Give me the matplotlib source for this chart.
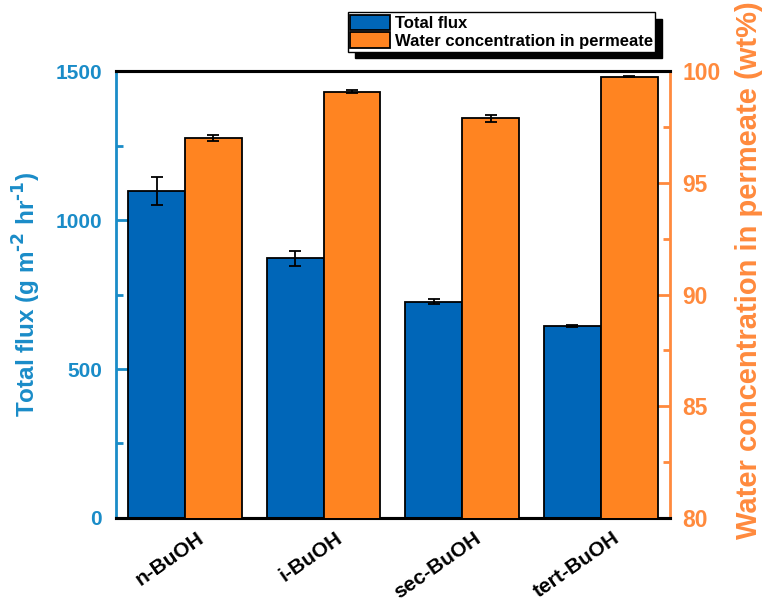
import matplotlib
matplotlib.use("Agg")
import matplotlib.pyplot as plt
import matplotlib.transforms as mtrans
import numpy as np

plt.rcParams['font.family'] = ['Liberation Sans', 'DejaVu Sans']
plt.rcParams['font.weight'] = 'bold'
plt.rcParams['mathtext.default'] = 'bf'

categories = ["n-BuOH", "i-BuOH", "sec-BuOH", "tert-BuOH"]
flux = [1098, 871, 726, 644]
flux_err = [48, 26, 8, 3]
water = [97.0, 99.07, 97.88, 99.75]
water_err = [0.13, 0.07, 0.14, 0.03]

blue_bar = "#0066B8"
orange_bar = "#FF8421"
blue_axis = "#1A8CC8"
orange_axis = "#FF8A3D"

fig = plt.figure(figsize=(7.67, 6.04), dpi=100)
ax1 = fig.add_axes([0.151, 0.1424, 0.7225, 0.740])
ax2 = ax1.twinx()

x = np.arange(len(categories))
w = 0.41
b1 = ax1.bar(x - w / 2, flux, w, color=blue_bar, edgecolor="black", linewidth=1.3,
             yerr=flux_err, capsize=4, error_kw=dict(ecolor="black", elinewidth=1.3, capthick=1.3),
             label="Total flux", zorder=3)
b2 = ax2.bar(x + w / 2, water, w, color=orange_bar, edgecolor="black", linewidth=1.3,
             yerr=water_err, capsize=4, error_kw=dict(ecolor="black", elinewidth=1.3, capthick=1.3),
             label="Water concentration in permeate", zorder=3)

ax1.set_xlim(-0.5, 3.5)
ax1.set_ylim(0, 1500)
ax2.set_ylim(80, 100)

ax1.set_yticks([0, 500, 1000, 1500])
ax1.set_yticks([250, 750, 1250], minor=True)
ax2.set_yticks([80, 85, 90, 95, 100])
ax2.set_yticks([82.5, 87.5, 92.5, 97.5], minor=True)

for ax in (ax1, ax2):
    ax.spines['top'].set_color('black')
    ax.spines['top'].set_linewidth(2.2)
    ax.spines['bottom'].set_color('black')
    ax.spines['bottom'].set_linewidth(2.2)
ax1.spines['left'].set_color(blue_axis)
ax1.spines['left'].set_linewidth(2)
ax1.spines['right'].set_visible(False)
ax2.spines['right'].set_color(orange_axis)
ax2.spines['right'].set_linewidth(2)
ax2.spines['left'].set_visible(False)

ax1.tick_params(axis='y', which='major', direction='in', length=10, width=2, color=blue_axis,
                labelcolor=blue_axis, labelsize=15, pad=10)
ax1.tick_params(axis='y', which='minor', direction='in', length=5, width=2, color=blue_axis)
ax2.tick_params(axis='y', which='major', direction='in', length=10, width=2, color=orange_axis,
                labelcolor=orange_axis, labelsize=16.5, pad=9)
ax2.tick_params(axis='y', which='minor', direction='in', length=5, width=2, color=orange_axis)
ax1.tick_params(axis='x', which='both', length=0, labelsize=15, pad=4)

ax1.set_xticks(x)
ax1.set_xticklabels(categories, rotation=35, ha='right', va='top', rotation_mode='anchor',
                    fontweight='bold')
offset = mtrans.ScaledTranslation(0.11, -0.05, fig.dpi_scale_trans)
for lab in ax1.get_xticklabels():
    lab.set_transform(lab.get_transform() + offset)

for lab in ax1.get_yticklabels() + ax2.get_yticklabels():
    lab.set_fontweight('bold')

ax1.set_ylabel("Total flux (g m$^{\\text{-2}}$ hr$^{\\text{-1}}$)", color=blue_axis,
               fontsize=17.5, fontweight='bold', labelpad=9)
ax2.set_ylabel("Water concentration in permeate (wt%)", color=orange_axis,
               fontsize=21, fontweight='bold')
ax2.yaxis.set_label_coords(1.117, 0.555)

fig.legend(handles=[b1.patches[0], b2.patches[0]],
           labels=["Total flux", "Water concentration in permeate"],
           loc='upper left', bbox_to_anchor=(0.4537, 0.980), bbox_transform=fig.transFigure,
           borderaxespad=0, fancybox=False, framealpha=1, edgecolor='black',
           shadow={'ox': 5, 'oy': -5, 'facecolor': 'black', 'edgecolor': 'black', 'alpha': 1},
           prop={'weight': 'bold', 'size': 12}, handlelength=2.35, handleheight=1.08,
           labelspacing=0.08, handletextpad=0.3, borderpad=0.15)

fig.savefig("out.png", dpi=100)
